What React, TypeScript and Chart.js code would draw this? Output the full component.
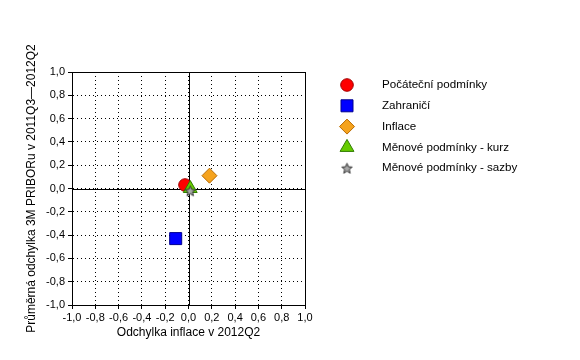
import React, { useEffect, useRef } from "react";
import { Chart, registerables } from "chart.js";
import { drawPoint } from "chart.js/helpers";

Chart.register(...registerables);

const seriesNames = [
  "Počáteční podmínky",
  "Zahraničí",
  "Inflace",
  "Měnové podmínky - kurz",
  "Měnové podmínky - sazby",
];
const xValues = [-0.03, -0.11, 0.18, 0.015, 0.015];
const yValues = [0.03, -0.43, 0.11, 0.0, -0.02];
const fillColors = ["#FF0000", "#0000FF", "#F5A31E", "#66CC00", "#A8A8A8"];
const edgeColors = ["#A00000", "#000090", "#B86A00", "#2F7A00", "#303030"];
const xTitle = "Odchylka inflace v 2012Q2";
const yTitle = "Průměrná odchylka 3M PRIBORu v 2011Q3—2012Q2";
const axisMin = -1;
const axisMax = 1;
const axisStep = 0.2;

const FONT = "'Liberation Sans', Arial, sans-serif";

function makeStar(fill: string, edge: string): HTMLCanvasElement {
  const c = document.createElement("canvas");
  const s = 13;
  c.width = s;
  c.height = s;
  const g = c.getContext("2d")!;
  const cx = s / 2, cy = s / 2 + 0.5, R = 5.5, r = 2.4;
  g.beginPath();
  for (let i = 0; i < 10; i++) {
    const a = -Math.PI / 2 + (i * Math.PI) / 5;
    const rad = i % 2 === 0 ? R : r;
    const px = cx + Math.cos(a) * rad;
    const py = cy + Math.sin(a) * rad;
    if (i === 0) g.moveTo(px, py);
    else g.lineTo(px, py);
  }
  g.closePath();
  g.fillStyle = fill;
  g.fill();
  g.strokeStyle = edge;
  g.lineWidth = 1;
  g.stroke();
  return c;
}

const fmt = (v: number) => {
  const n = Math.abs(v) < 1e-9 ? 0 : v;
  return n.toFixed(1).replace(".", ",");
};

export default function App() {
  const ref = useRef<HTMLCanvasElement | null>(null);
  useEffect(() => {
    document.body.style.margin = "0";
    const star = makeStar(fillColors[4], edgeColors[4]);
    const styles: any[] = ["circle", "rect", "rectRot", "triangle", star];
    const radii = [6.3, 8.5, 7.5, 8, 6.5];

    const frame = {
      id: "frame",
      beforeDatasetsDraw(chart: any) {
        const { ctx, chartArea, scales } = chart;
        ctx.save();
        ctx.strokeStyle = "#000";
        ctx.lineWidth = 1;
        ctx.setLineDash([]);
        const x0 = Math.round(scales.x.getPixelForValue(0)) + 0.5;
        const y0 = Math.round(scales.y.getPixelForValue(0)) + 0.5;
        ctx.beginPath();
        ctx.moveTo(x0, chartArea.top);
        ctx.lineTo(x0, chartArea.bottom);
        ctx.moveTo(chartArea.left, y0);
        ctx.lineTo(chartArea.right, y0);
        ctx.stroke();
        ctx.strokeRect(
          Math.round(chartArea.left) + 0.5,
          Math.round(chartArea.top) + 0.5,
          Math.round(chartArea.right - chartArea.left),
          Math.round(chartArea.bottom - chartArea.top)
        );
        ctx.restore();
      },
    };

    const legend = {
      id: "customLegend",
      afterDraw(chart: any) {
        const { ctx } = chart;
        ctx.save();
        chart.data.datasets.forEach((ds: any, i: number) => {
          const y = 85 + i * 20.8;
          ctx.fillStyle = ds.backgroundColor;
          ctx.strokeStyle = ds.borderColor;
          ctx.lineWidth = 1;
          drawPoint(ctx, { pointStyle: ds.pointStyle, radius: ds.pointRadius, rotation: 0, borderWidth: 1 }, 347, y);
          ctx.fillStyle = "#000";
          ctx.font = `11.6px ${FONT}`;
          ctx.textBaseline = "middle";
          ctx.textAlign = "left";
          ctx.fillText(ds.label, 382, y);
        });
        ctx.restore();
      },
    };

    const chart = new Chart(ref.current!, {
      type: "scatter",
      data: {
        datasets: seriesNames.map((name, i) => ({
          label: name,
          data: [{ x: xValues[i], y: yValues[i] }],
          order: seriesNames.length - i,
          pointStyle: styles[i],
          pointRadius: radii[i],
          pointHoverRadius: radii[i],
          backgroundColor: fillColors[i],
          borderColor: edgeColors[i],
          borderWidth: 1,
        })),
      },
      options: {
        responsive: false,
        animation: false,
        events: [],
        layout: { padding: { left: 0, top: 72, right: 275, bottom: 0 } },
        plugins: { legend: { display: false }, tooltip: { enabled: false } },
        scales: {
          x: {
            type: "linear",
            min: axisMin,
            max: axisMax,
            afterFit(scale: any) {
              scale.height = 55;
            },
            ticks: {
              stepSize: axisStep,
              color: "#000",
              padding: 2,
              maxRotation: 0,
              autoSkip: false,
              font: { family: FONT, size: 11 },
              callback: (v: any) => fmt(Number(v)),
            },
            grid: { color: "#000", lineWidth: 1, tickLength: 4, tickBorderDash: [], tickColor: "#000" },
            border: { display: true, color: "#000", dash: [1, 3] },
            title: {
              display: true,
              text: xTitle,
              color: "#000",
              font: { family: FONT, size: 12 },
              padding: { top: 0, bottom: 20 },
            },
          },
          y: {
            type: "linear",
            min: axisMin,
            max: axisMax,
            afterFit(scale: any) {
              scale.width = 72;
            },
            ticks: {
              stepSize: axisStep,
              color: "#000",
              padding: 3,
              autoSkip: false,
              font: { family: FONT, size: 11 },
              callback: (v: any) => fmt(Number(v)),
            },
            grid: { color: "#000", lineWidth: 1, tickLength: 4, tickBorderDash: [], tickColor: "#000" },
            border: { display: true, color: "#000", dash: [1, 3] },
            title: {
              display: true,
              text: yTitle,
              color: "#000",
              font: { family: FONT, size: 12 },
              padding: { top: 24, bottom: 0 },
            },
          },
        },
      } as any,
      plugins: [frame, legend],
    });
    return () => chart.destroy();
  }, []);

  return (
    <div style={{ position: "absolute", left: 0, top: 0, width: 580, height: 360, background: "#fff" }}>
      <canvas ref={ref} width={580} height={360} />
    </div>
  );
}
